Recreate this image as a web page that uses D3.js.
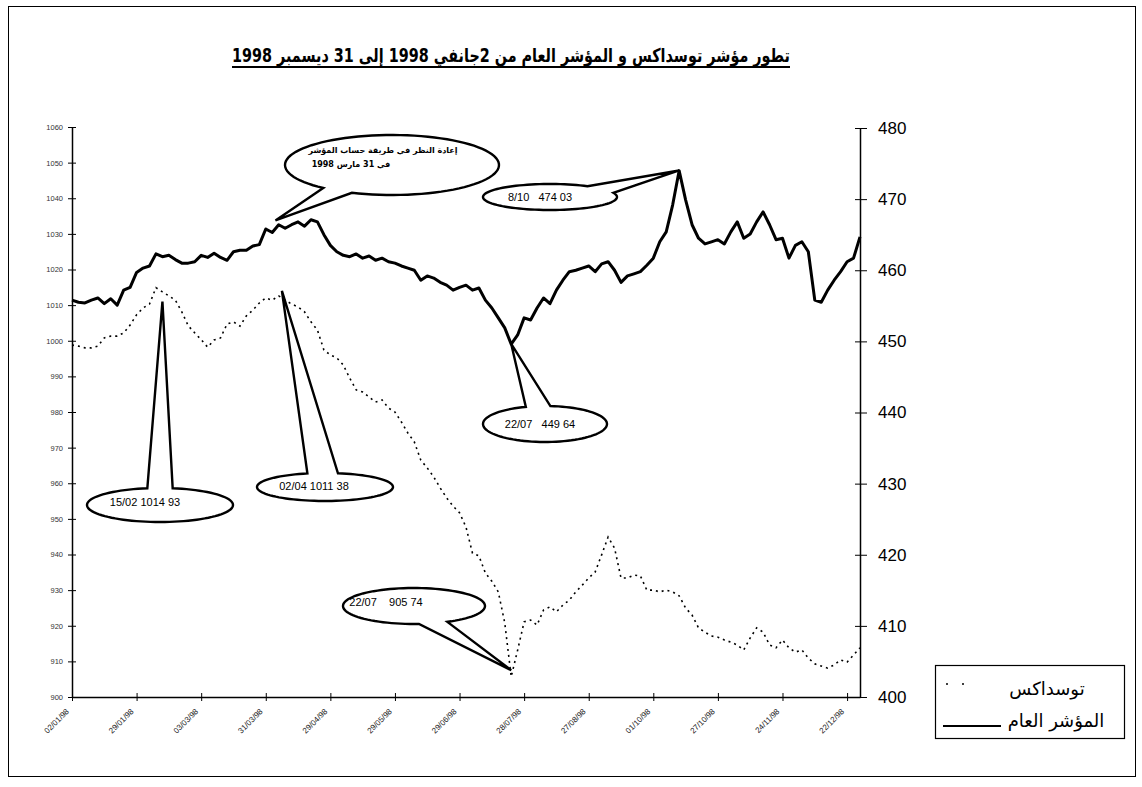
<!DOCTYPE html>
<html>
<head>
<meta charset="utf-8">
<script src="https://cdn.jsdelivr.net/npm/d3@7"></script>
<style>
  body { margin: 0; background: #fff; }
  svg text { white-space: pre; }
</style>
</head>
<body>
<div id="chart"></div>
<script>
// ── Data ─────────────────────────────────────────────────────────────────────
// one value per session, 2 Jan 1998 → 31 Dec 1998
const tunindex = [
  998.8, 998.5, 998.0, 998.0, 998.5, 1000.8, 1001.3, 1001.3, 1002.2, 1004.4,
  1007.3, 1009.2, 1010.3, 1014.9, 1013.7, 1012.6, 1011.4, 1008.1, 1004.2, 1002.2,
  1000.3, 998.2, 1000.2, 1000.8, 1004.7, 1005.3, 1004.1, 1007.0, 1008.6, 1010.6,
  1012.0, 1011.4, 1012.6, 1011.4, 1010.3, 1009.5, 1008.1, 1005.3, 1003.0, 997.4,
  996.0, 995.2, 993.2, 989.5, 986.2, 985.6, 984.2, 982.8, 983.4, 981.1,
  980.0, 977.2, 974.1, 971.6, 966.5, 964.3, 961.8, 958.7, 955.9, 953.6,
  951.7, 947.7, 940.4, 939.6, 934.8, 932.5, 929.5, 920.8, 905.7, 913.2,
  921.1, 921.6, 920.2, 924.4, 925.3, 923.9, 925.8, 927.2, 929.5, 931.4,
  933.4, 935.1, 939.9, 944.9, 941.8, 933.4, 933.4, 934.2, 934.0, 930.0,
  930.0, 929.5, 930.0, 929.5, 928.4, 925.0, 923.0, 919.4, 918.2, 917.1,
  916.8, 916.0, 915.4, 914.6, 913.2, 916.6, 919.4, 918.2, 914.6, 913.8,
  916.0, 913.8, 912.6, 913.2, 910.9, 909.3, 908.7, 908.1, 909.0, 910.4,
  909.8, 911.8, 913.8
];

const general = [
  455.8, 455.5, 455.4, 455.8, 456.1, 455.3, 456.0, 455.1, 457.2, 457.6,
  459.7, 460.3, 460.6, 462.3, 461.9, 462.1, 461.5, 461.0, 461.0, 461.2,
  462.1, 461.8, 462.4, 461.8, 461.4, 462.6, 462.8, 462.8, 463.4, 463.6,
  465.8, 465.3, 466.4, 465.9, 466.4, 466.8, 466.2, 467.1, 466.8, 465.0,
  463.5, 462.6, 462.1, 461.9, 462.3, 461.7, 462.0, 461.4, 461.7, 461.2,
  461.0, 460.6, 460.3, 460.0, 458.6, 459.2, 458.9, 458.3, 457.9, 457.2,
  457.6, 457.9, 457.2, 457.5, 455.8, 454.7, 453.3, 451.9, 449.6, 450.9,
  453.3, 453.0, 454.7, 456.1, 455.3, 457.2, 458.6, 459.8, 460.0, 460.3,
  460.6, 459.8, 460.9, 461.2, 460.0, 458.3, 459.2, 459.5, 459.8, 460.7,
  461.7, 464.0, 465.4, 469.2, 474.0, 469.9, 466.4, 464.5, 463.7, 464.0,
  464.3, 463.7, 465.4, 466.8, 464.5, 465.1, 466.8, 468.2, 466.4, 464.3,
  464.5, 461.7, 463.5, 464.0, 462.6, 455.8, 455.5, 457.2, 458.6, 459.8,
  461.2, 461.7, 464.7
];

const tickSessions = [0, 10, 20, 30, 40, 50, 60, 70, 80, 90, 100, 110, 120];
const dateLabels = [
  "02/01/98", "29/01/98", "03/03/98", "31/03/98", "29/04/98", "29/05/98", "29/06/98",
  "28/07/98", "27/08/98", "01/10/98", "27/10/98", "24/11/98", "22/12/98"
];
const leftTicks  = [900, 910, 920, 930, 940, 950, 960, 970, 980, 990, 1000, 1010, 1020, 1030, 1040, 1050, 1060];
const rightTicks = [400, 410, 420, 430, 440, 450, 460, 470, 480];

const titleText  = "تطور مؤشر توسداكس و المؤشر العام من 2جانفي 1998 إلى 31 ديسمبر 1998";
const legendNames = ["توسداكس", "المؤشر العام"];

// callouts: which series / session / value the pointer targets, and the label
const notes = [
  { series: "general",  idx: 31.5, value: 467.0,   lines: ["إعادة النظر في طريقة حساب المؤشر", "في 31 مارس 1998"] },
  { series: "general",  idx: 94,   value: 474.03,  lines: ["8/10   474 03"] },
  { series: "general",  idx: 68,   value: 449.64,  lines: ["22/07   449 64"] },
  { series: "tunindex", idx: 68,   value: 907.5,   lines: ["22/07    905 74"] },
  { series: "tunindex", idx: 32.5, value: 1014.0,  lines: ["02/04 1011 38"] },
  { series: "tunindex", idx: 14,   value: 1011.0,  lines: ["15/02 1014 93"] }
];

// ── Layout ───────────────────────────────────────────────────────────────────
const W = 1142, H = 787;
const PLOT = { l: 72, r: 860, t: 127, b: 697 };
const FONT = '"Liberation Sans", Arial, sans-serif';
const AR_FONT = '"DejaVu Sans", "Liberation Sans", sans-serif';

// balloon geometry (ellipse + gap where the pointer leaves), same order as notes
const balloons = [
  { cx: 392, cy: 165, rx: 107, ry: 30, a1: 112, a2: 130, tx: [383, 351], ty: [153, 167], fs: 8, bold: true, ar: true },
  { cx: 550, cy: 197, rx: 67,  ry: 13, a1: -56, a2: -19, tx: [540], ty: [201], fs: 11 },
  { cx: 545, cy: 424, rx: 62,  ry: 18, a1: -108, a2: -85, tx: [540], ty: [428], fs: 11 },
  { cx: 414, cy: 606, rx: 71,  ry: 18, a1: 62, a2: 86, tx: [386], ty: [606], fs: 11 },
  { cx: 325, cy: 487, rx: 68,  ry: 14, a1: -105, a2: -79, tx: [314], ty: [490], fs: 11 },
  { cx: 160, cy: 505, rx: 73,  ry: 17, a1: -100, a2: -80, tx: [145], ty: [506], fs: 11 }
];

const svg = d3.select('#chart').append('svg')
  .attr('width', W).attr('height', H)
  .style('display', 'block').style('background', '#fff');

// outer frame
svg.append('rect')
  .attr('x', 8.5).attr('y', 6.5).attr('width', 1127).attr('height', 770)
  .attr('fill', 'none').attr('stroke', '#000').attr('stroke-width', 1);

// ── Scales ───────────────────────────────────────────────────────────────────
const x  = d3.scaleLinear().domain([0, tunindex.length - 1]).range([PLOT.l, PLOT.r]);
const yL = d3.scaleLinear().domain([900, 1060]).range([PLOT.b, PLOT.t]);
const yR = d3.scaleLinear().domain([400, 480]).range([PLOT.b, 128]);

// ── Title ────────────────────────────────────────────────────────────────────
svg.append('text')
  .attr('x', 511).attr('y', 62)
  .attr('text-anchor', 'middle').attr('direction', 'rtl')
  .attr('font-family', AR_FONT).attr('font-size', 19).attr('font-weight', 700)
  .attr('textLength', 558).attr('lengthAdjust', 'spacingAndGlyphs')
  .text(titleText);
svg.append('line')
  .attr('x1', 232).attr('x2', 790)
  .attr('y1', 67).attr('y2', 67)
  .attr('stroke', '#000').attr('stroke-width', 1.8);

// ── Axes ─────────────────────────────────────────────────────────────────────
const gL = svg.append('g').attr('transform', `translate(${PLOT.l},0)`)
  .call(d3.axisLeft(yL).tickValues(leftTicks).tickSizeInner(4).tickSizeOuter(0).tickFormat(d => d));
gL.attr('font-family', FONT).attr('font-size', 7.5);
gL.select('.domain').attr('stroke', '#000').attr('stroke-width', 1.5);
gL.selectAll('.tick line').attr('x1', -4).attr('x2', 4).attr('stroke', '#000');
gL.selectAll('.tick text').attr('x', -9).attr('fill', '#333');

const gR = svg.append('g').attr('transform', `translate(${PLOT.r},0)`)
  .call(d3.axisRight(yR).tickValues(rightTicks).tickSizeInner(6).tickSizeOuter(0).tickFormat(d => d));
gR.attr('font-family', FONT).attr('font-size', 17);
gR.select('.domain').attr('stroke', '#000').attr('stroke-width', 1.5);
gR.selectAll('.tick line').attr('x1', -5).attr('x2', 7).attr('stroke', '#000');
gR.selectAll('.tick text').attr('x', 18).attr('fill', '#000');

const gB = svg.append('g').attr('transform', `translate(0,${PLOT.b})`)
  .call(d3.axisBottom(x).tickValues(tickSessions).tickSizeInner(4).tickSizeOuter(0)
    .tickFormat((d, i) => dateLabels[i]));
gB.attr('font-family', FONT).attr('font-size', 8);
gB.select('.domain').attr('stroke', '#000').attr('stroke-width', 1.5);
gB.selectAll('.tick line').attr('y1', -4).attr('y2', 4).attr('stroke', '#000');
gB.selectAll('.tick text')
  .attr('x', 0).attr('y', 0).attr('dy', 0)
  .attr('text-anchor', 'end').attr('fill', '#222')
  .attr('transform', 'translate(-3,15) rotate(-45)');

// ── Series ───────────────────────────────────────────────────────────────────
svg.append('path')
  .datum(tunindex)
  .attr('fill', 'none').attr('stroke', '#000')
  .attr('stroke-width', 1.6).attr('stroke-dasharray', '2 4')
  .attr('d', d3.line().x((d, i) => x(i)).y(d => yL(d)));

svg.append('path')
  .datum(general)
  .attr('fill', 'none').attr('stroke', '#000')
  .attr('stroke-width', 3).attr('stroke-linejoin', 'round')
  .attr('d', d3.line().x((d, i) => x(i)).y(d => yR(d)));

// ── Callout balloons ─────────────────────────────────────────────────────────
const rad = a => a * Math.PI / 180;
notes.forEach((n, k) => {
  const b = balloons[k];
  const tipX = x(n.idx);
  const tipY = n.series === 'general' ? yR(n.value) : yL(n.value);
  const pts = [];
  const span = 360 - (b.a2 - b.a1);
  for (let s = 0; s <= 90; s++) {
    const a = rad(b.a2 + span * s / 90);
    pts.push([b.cx + b.rx * Math.cos(a), b.cy + b.ry * Math.sin(a)]);
  }
  pts.push([tipX, tipY]);
  svg.append('path')
    .attr('d', d3.line()(pts) + 'Z')
    .attr('fill', '#fff').attr('stroke', '#000').attr('stroke-width', 2.4)
    .attr('stroke-linejoin', 'miter');

  n.lines.forEach((t, j) => {
    svg.append('text')
      .attr('x', b.tx[j]).attr('y', b.ty[j])
      .attr('text-anchor', 'middle')
      .attr('direction', b.ar ? 'rtl' : 'ltr')
      .attr('font-family', b.ar ? AR_FONT : FONT)
      .attr('font-size', b.fs).attr('font-weight', b.bold ? 700 : 400)
      .text(t);
  });
});

// ── Legend ───────────────────────────────────────────────────────────────────
const lg = svg.append('g');
lg.append('rect')
  .attr('x', 935.5).attr('y', 665.5).attr('width', 189).attr('height', 73)
  .attr('fill', '#fff').attr('stroke', '#000').attr('stroke-width', 1.2);
lg.append('line')
  .attr('x1', 946).attr('x2', 966).attr('y1', 684).attr('y2', 684)
  .attr('stroke', '#000').attr('stroke-width', 1.6).attr('stroke-dasharray', '2 14');
lg.append('text')
  .attr('x', 1047).attr('y', 695).attr('text-anchor', 'middle').attr('direction', 'rtl')
  .attr('font-family', AR_FONT).attr('font-size', 18)
  .text(legendNames[0]);
lg.append('line')
  .attr('x1', 943).attr('x2', 1001).attr('y1', 726).attr('y2', 726)
  .attr('stroke', '#000').attr('stroke-width', 2);
lg.append('text')
  .attr('x', 1056).attr('y', 727).attr('text-anchor', 'middle').attr('direction', 'rtl')
  .attr('font-family', AR_FONT).attr('font-size', 18)
  .text(legendNames[1]);
</script>
</body>
</html>
